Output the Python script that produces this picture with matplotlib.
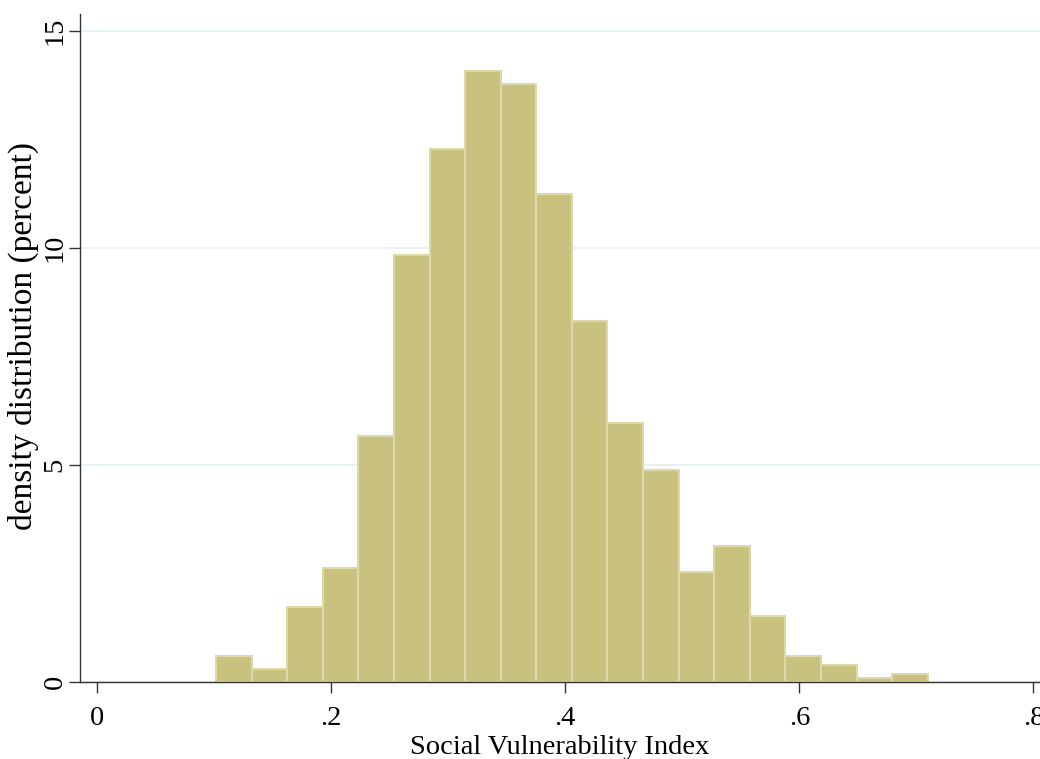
import matplotlib.pyplot as plt
import numpy as np

plt.rcParams['font.family'] = ['Liberation Serif', 'DejaVu Serif']

# histogram: 20 bins starting at ~0.1017, width ~0.0304
bin_start = 0.1017
bin_width = 0.0304
percent = [0.60, 0.30, 1.73, 2.63, 5.67, 9.83, 12.28, 14.08, 13.78, 11.25,
           8.32, 5.97, 4.88, 2.53, 3.13, 1.52, 0.60, 0.39, 0.10, 0.19]
xticks = [0, 0.2, 0.4, 0.6, 0.8]
xticklabels = ['0', '.2', '.4', '.6', '.8']
yticks = [0, 5, 10, 15]

lefts = bin_start + bin_width * np.arange(len(percent))

fig = plt.figure(figsize=(10.4, 7.59), dpi=100)
ax = fig.add_axes([80 / 1040, 77 / 759, 960 / 1040, 668 / 759])

ax.bar(lefts, percent, width=bin_width, align='edge', color='#C9C27F',
       edgecolor='#DDD8A8', linewidth=1.5, zorder=2)

ax.set_xlim(-0.0145, 0.8056)
ax.set_ylim(0, 15.39)
ax.set_xticks(xticks)
ax.set_xticklabels(xticklabels)
ax.set_yticks(yticks)
ax.set_yticklabels([str(v) for v in yticks], rotation=90, va='center')
ax.tick_params(axis='both', labelsize=20.5, length=8, width=1, color='#333333')
ax.tick_params(axis='x', pad=9)
ax.tick_params(axis='y', pad=1)

ax.grid(axis='y', color='#E6EFF1', linewidth=1.2, zorder=0)
ax.set_axisbelow(True)
for s in ['top', 'right']:
    ax.spines[s].set_visible(False)
for s in ['left', 'bottom']:
    ax.spines[s].set_color('#333333')
    ax.spines[s].set_linewidth(1.0)

ax.set_xlabel('Social Vulnerability Index', fontsize=20.5, labelpad=3)
ax.set_ylabel('density distribution (percent)', fontsize=24)
ax.yaxis.set_label_coords(-0.043, 0.518)

fig.savefig('out.png', dpi=100)
